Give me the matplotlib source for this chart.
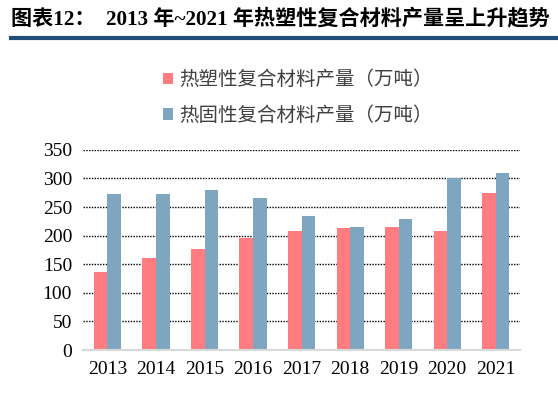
import matplotlib.pyplot as plt
import numpy as np

years = ["2013", "2014", "2015", "2016", "2017", "2018", "2019", "2020", "2021"]
thermoplastic = [137, 161, 176, 196, 209, 213, 215, 209, 274]
thermoset = [273, 272, 280, 265, 234, 216, 230, 301, 310]
labels = ["热塑性复合材料产量（万吨）", "热固性复合材料产量（万吨）"]

red = "#FF7C80"
blue = "#7EA6C0"

fig = plt.figure(figsize=(5.58, 3.99), dpi=100)
ax = fig.add_axes([0.149, 0.1228, 0.783, 0.5015])

x = np.arange(len(years))
w = 0.28
ax.bar(x - w / 2, thermoplastic, w, color=red, label=labels[0], zorder=3)
ax.bar(x + w / 2, thermoset, w, color=blue, label=labels[1], zorder=3)

ax.set_xlim(-0.5, len(years) - 0.5)
ax.set_ylim(0, 350)
ax.set_yticks(range(0, 351, 50))
ax.set_xticks(x)
ax.set_xticklabels(years, family="Liberation Serif", fontsize=14)
for t in ax.get_yticklabels():
    t.set_family("Liberation Serif")
    t.set_fontsize(14)
ax.tick_params(length=0, pad=8)
ax.yaxis.grid(True, linestyle=(0, (1, 1)), color="black", linewidth=1, zorder=0)
for s in ["top", "right", "left"]:
    ax.spines[s].set_visible(False)
ax.spines["bottom"].set_color("#D9D9D9")
ax.spines["bottom"].set_linewidth(1.5)
ax.spines["bottom"].set_zorder(4)

leg = fig.legend(loc="upper left", bbox_to_anchor=(0.26, 0.87), frameon=False,
                 prop={"family": "Noto Sans CJK SC", "size": 14},
                 handlelength=0.55, handleheight=0.55, handletextpad=0.3,
                 labelspacing=0.75)
for t in leg.get_texts():
    t.set_color("#404040")

fig.text(0.02, 0.952, "图表12：  2013 年~2021 年热塑性复合材料产量呈上升趋势",
         family=["Liberation Serif", "Noto Sans CJK SC"], fontsize=15.2,
         fontweight="bold", va="center", ha="left", color="black")
fig.add_artist(plt.Line2D([0.02, 1.0], [0.905, 0.905], color="#1F4E79",
                          linewidth=3, transform=fig.transFigure))

fig.savefig("out.png", dpi=100)
